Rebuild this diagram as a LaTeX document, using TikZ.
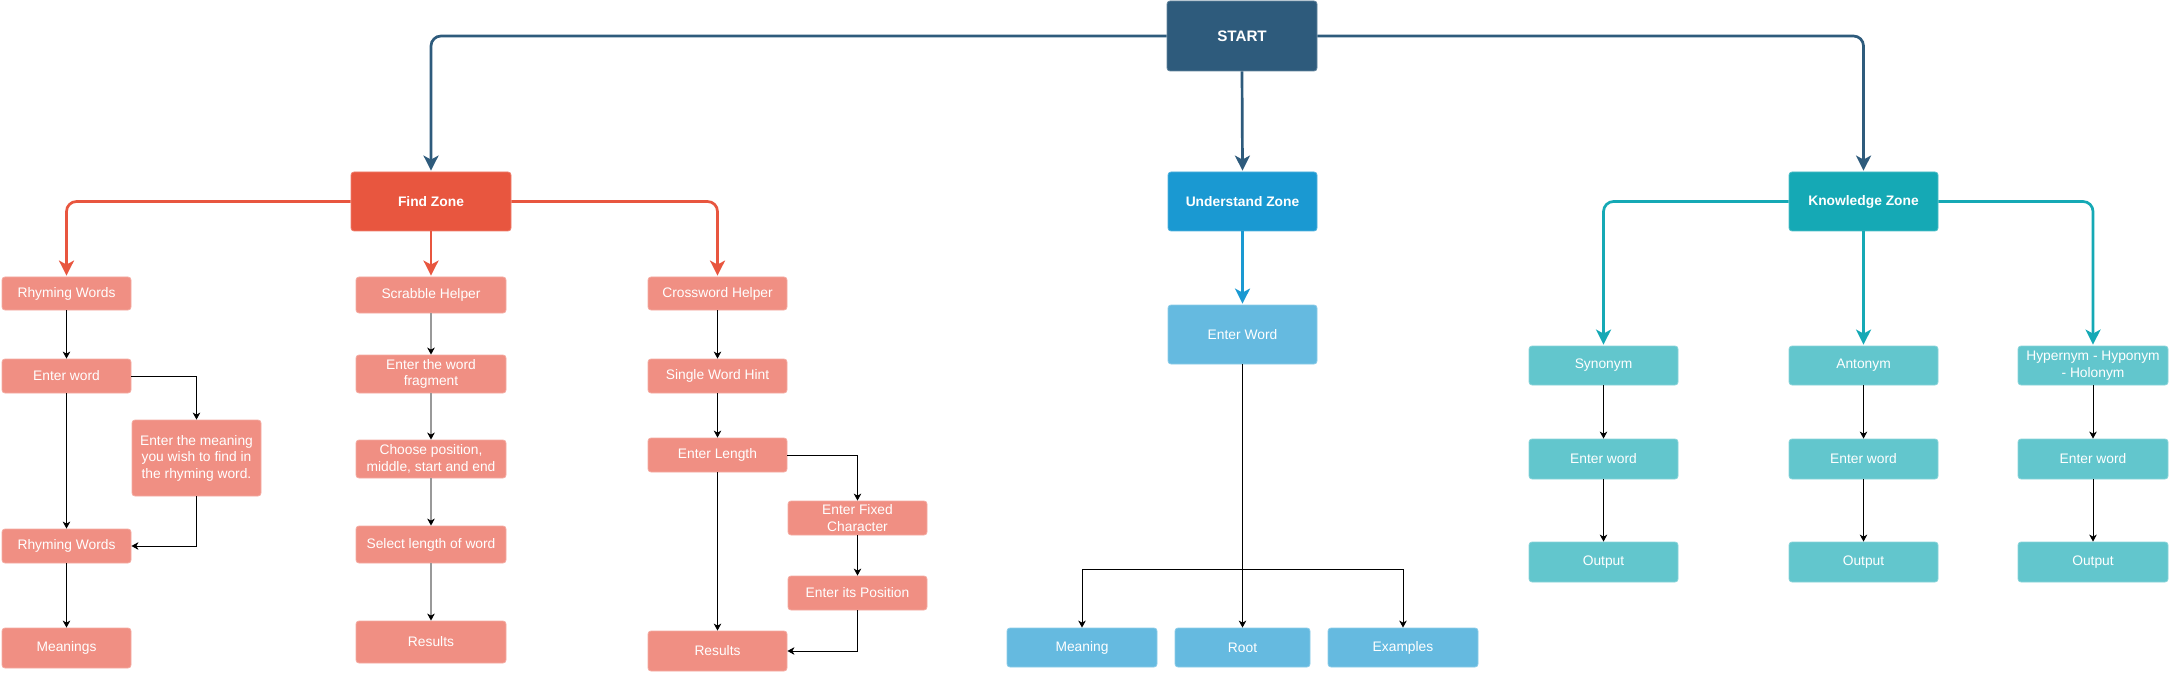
\documentclass[tikz,border=0pt]{standalone}
\usepackage{fontspec}
\setmainfont{Liberation Sans}
\usetikzlibrary{arrows.meta}
\definecolor{cstart}{HTML}{2E5B7C}
\definecolor{cfind}{HTML}{E8563F}
\definecolor{csalmon}{HTML}{F08F83}
\definecolor{cund}{HTML}{1A99D2}
\definecolor{clblue}{HTML}{65BAE0}
\definecolor{cknow}{HTML}{15A9B5}
\definecolor{cteal}{HTML}{62C6CD}
\tikzset{
  box/.style={rectangle, rounded corners=3pt, text=white, align=center, inner sep=0pt,
    line width=0.8pt, font=\fontsize{13.8}{16.5}\selectfont},
  zonebox/.style={box, font=\bfseries\fontsize{13.8}{16.5}\selectfont},
  sbox/.style={box, fill=csalmon, draw=csalmon!75!white},
  bbox/.style={box, fill=clblue, draw=clblue!75!white},
  tbox/.style={box, fill=cteal, draw=cteal!75!white},
  thin/.style={line width=1pt, black, -{Stealth[length=7pt,width=7.5pt,inset=2pt]}},
  greythin/.style={line width=1.2pt, draw=gray!80, -{Stealth[length=7pt,width=7.5pt,inset=2pt,color=black]}},
  thick/.style={line width=2.7pt, rounded corners=10pt, shorten >=1pt,
    -{Stealth[length=15pt,width=15pt,inset=4pt]}},
}
\begin{document}
\begin{tikzpicture}[x=1pt,y=-1pt]
\useasboundingbox (0,0) rectangle (2170,676);
% top level
\node[zonebox, fill=cstart, draw=cstart!75!white, minimum width=150pt, minimum height=70pt,
  font=\bfseries\fontsize{15.2}{18}\selectfont] (start) at (1242,36) {START};
\node[zonebox, fill=cfind, draw=cfind!75!white, minimum width=160pt, minimum height=59pt] (find) at (431,201.5) {Find Zone};
\node[zonebox, fill=cund, draw=cund!75!white, minimum width=149pt, minimum height=59pt] (und) at (1242.5,201.5) {Understand Zone};
\node[zonebox, fill=cknow, draw=cknow!75!white, minimum width=149pt, minimum height=59pt] (know) at (1863.5,201.5) {Knowledge Zone};

% Find: rhyming column
\node[sbox, minimum width=129pt, minimum height=33pt] (rw1) at (66.5,293.5) {Rhyming Words};
\node[sbox, minimum width=129pt, minimum height=34pt] (ew1) at (66.5,376) {Enter word};
\node[sbox, minimum width=129pt, minimum height=76pt] (mean) at (196.5,458) {Enter the meaning\\you wish to find in\\the rhyming word.};
\node[sbox, minimum width=129pt, minimum height=34pt] (rw2) at (66.5,546) {Rhyming Words};
\node[sbox, minimum width=129pt, minimum height=40pt] (mngs) at (66.5,648) {Meanings};

% Find: scrabble column
\node[sbox, minimum width=150pt, minimum height=36pt] (sh) at (431,295) {Scrabble Helper};
\node[sbox, minimum width=150pt, minimum height=38pt] (frag) at (431,374) {Enter the word\\fragment};
\node[sbox, minimum width=150pt, minimum height=38pt] (choose) at (431,459) {Choose position,\\middle, start and end};
\node[sbox, minimum width=150pt, minimum height=37pt] (sel) at (431,544.5) {Select length of word};
\node[sbox, minimum width=150pt, minimum height=42pt] (res1) at (431,642) {Results};

% Find: crossword column
\node[sbox, minimum width=139pt, minimum height=33pt] (ch) at (717.5,293.5) {Crossword Helper};
\node[sbox, minimum width=139pt, minimum height=34pt] (swh) at (717.5,376) {Single Word Hint};
\node[sbox, minimum width=139pt, minimum height=34pt] (el) at (717.5,455) {Enter Length};
\node[sbox, minimum width=139pt, minimum height=40pt] (res2) at (717.5,651) {Results};
\node[sbox, minimum width=139pt, minimum height=34pt] (efc) at (857.5,518) {Enter Fixed\\Character};
\node[sbox, minimum width=139pt, minimum height=34pt] (eip) at (857.5,593) {Enter its Position};

% Understand
\node[bbox, minimum width=149pt, minimum height=59pt] (uew) at (1242.5,334.5) {Enter Word};
\node[bbox, minimum width=150pt, minimum height=39pt] (umean) at (1082,647.5) {Meaning};
\node[bbox, minimum width=135pt, minimum height=39pt] (uroot) at (1242.5,647.5) {Root};
\node[bbox, minimum width=150pt, minimum height=39pt] (uex) at (1403,647.5) {Examples};
\coordinate (uj) at (1242.5,569);

% Knowledge
\node[tbox, minimum width=149pt, minimum height=39pt] (syn) at (1603.5,365.5) {Synonym};
\node[tbox, minimum width=149pt, minimum height=39pt] (ant) at (1863.5,365.5) {Antonym};
\node[tbox, minimum width=150pt, minimum height=39pt] (hyp) at (2093,365.5) {Hypernym - Hyponym\\- Holonym};
\node[tbox, minimum width=149pt, minimum height=40pt] (sew) at (1603.5,459) {Enter word};
\node[tbox, minimum width=149pt, minimum height=40pt] (aew) at (1863.5,459) {Enter word};
\node[tbox, minimum width=150pt, minimum height=40pt] (hew) at (2093,459) {Enter word};
\node[tbox, minimum width=149pt, minimum height=40pt] (sout) at (1603.5,562) {Output};
\node[tbox, minimum width=149pt, minimum height=40pt] (aout) at (1863.5,562) {Output};
\node[tbox, minimum width=150pt, minimum height=40pt] (hout) at (2093,562) {Output};

% START connectors
\draw[thick, cstart] (start.west) -| (find.north);
\draw[thick, cstart] (start.south) -- (und.north);
\draw[thick, cstart] (start.east) -| (know.north);

% Find connectors
\draw[thick, cfind] (find.west) -| (rw1.north);
\draw[thick, cfind] (find.south) -- (sh.north);
\draw[thick, cfind] (find.east) -| (ch.north);

\draw[thin] (rw1) -- (ew1);
\draw[thin] (ew1) -- (rw2);
\draw[thin] (rw2) -- (mngs);
\draw[thin] (ew1.east) -| (mean.north);
\draw[thin] (mean.south) |- (rw2.east);

\draw[greythin] (sh) -- (frag);
\draw[greythin] (frag) -- (choose);
\draw[greythin] (choose) -- (sel);
\draw[greythin] (sel) -- (res1);

\draw[thin] (ch) -- (swh);
\draw[thin] (swh) -- (el);
\draw[thin] (el) -- (res2);
\draw[thin] (el.east) -| (efc.north);
\draw[thin] (efc) -- (eip);
\draw[thin] (eip.south) |- (res2.east);

% Understand connectors
\draw[thick, cund] (und.south) -- (uew.north);
\draw[thin] (uew.south) -- (uroot.north);
\draw[thin] (uj) -| (umean.north);
\draw[thin] (uj) -| (uex.north);

% Knowledge connectors
\draw[thick, cknow] (know.west) -| (syn.north);
\draw[thick, cknow] (know.south) -- (ant.north);
\draw[thick, cknow] (know.east) -| (hyp.north);
\draw[thin] (syn) -- (sew);
\draw[thin] (sew) -- (sout);
\draw[thin] (ant) -- (aew);
\draw[thin] (aew) -- (aout);
\draw[thin] (hyp) -- (hew);
\draw[thin] (hew) -- (hout);
\end{tikzpicture}
\end{document}
